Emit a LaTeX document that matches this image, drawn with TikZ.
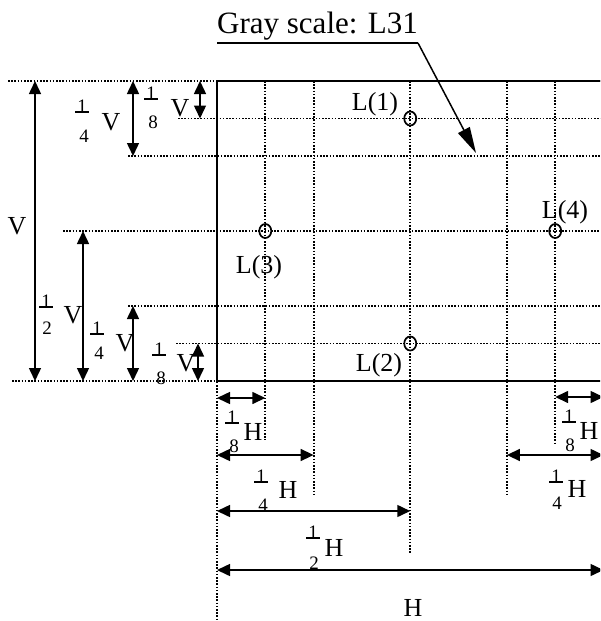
\documentclass[tikz,border=0pt]{standalone}
\usepackage{fontspec}
\setmainfont{Liberation Serif}
\usetikzlibrary{arrows.meta,shapes.geometric}
\tikzset{
  dim/.style={line width=1.5pt,{Triangle[length=13pt,width=12pt]}-{Triangle[length=13pt,width=12pt]}},
  dots/.style={line width=1.8pt,dash pattern=on 1.6pt off 1.6pt},
  frameline/.style={line width=2.3pt},
  lbl/.style={font=\fontsize{26}{26}\selectfont,inner sep=0pt},
  num/.style={font=\fontsize{19}{19}\selectfont,inner sep=2pt,anchor=base},
  den/.style={font=\fontsize{19}{19}\selectfont,inner sep=0pt},
  barline/.style={line width=1.2pt},
  ptmark/.style={draw,ellipse,minimum width=12pt,minimum height=14pt,inner sep=0pt,line width=1.7pt},
  pointer/.style={line width=1.5pt,-{Triangle[length=26pt,width=13pt]}}
}
\newcommand\onebar[2]{\node[num] (#1) at (#2) {1}; \draw[barline] (#1.base west) -- (#1.base east);}
\begin{document}
\begin{tikzpicture}[x=1pt,y=-1pt]
\useasboundingbox (0,0) rectangle (600,621);
\clip (0,0) rectangle (600,621);
% frame corners
\coordinate (TL) at (217,81);
\coordinate (BR) at (603.5,381);
% dotted horizontal lines
\draw[dots] (8,81) -- (603.5,81);
\draw[dots] (178,118.5) -- (603.5,118.5);
\draw[dots] (128,156) -- (603.5,156);
\draw[dots] (63,231) -- (603.5,231);
\draw[dots] (128,306) -- (603.5,306);
\draw[dots] (176,343.5) -- (603.5,343.5);
\draw[dots] (12,381) -- (603.5,381);
% dotted vertical lines
\draw[dots] (217,81) -- (217,621);
\draw[dots] (265.3,81) -- (265.3,440);
\draw[dots] (313.6,81) -- (313.6,496);
\draw[dots] (410.25,81) -- (410.25,554);
\draw[dots] (506.9,81) -- (506.9,494);
\draw[dots] (555.2,81) -- (555.2,444);
% frame
\draw[frameline] (TL) rectangle (BR);
% points
\node[ptmark] (p1) at (410.25,118.5) {};
\node[ptmark] (p3) at (265.3,231) {};
\node[ptmark] (p2) at (410.25,343.5) {};
\node[ptmark] (p4) at (555.2,231) {};
\node[lbl] (l1) at (375,104) {L(1)};
\node[lbl] (l3) at (259,267) {L(3)};
\node[lbl] (l4) at (565,212) {L(4)};
\node[lbl] (l2) at (379,365) {L(2)};
% gray scale
\node[font=\fontsize{31}{31}\selectfont,inner sep=0pt,anchor=base west] (gs) at (217,33) {Gray scale: L31};
\coordinate (ulA) at (217,43);
\coordinate (ulB) at (418,43);
\coordinate (gtip) at (476,153);
\draw[line width=1.3pt] (ulA) -- (ulB);
\draw[pointer] (ulB) -- (gtip);
% vertical dimension arrows
\coordinate (va1) at (35,81);   \coordinate (va2) at (35,381);
\coordinate (vb1) at (133,81);  \coordinate (vb2) at (133,156);
\coordinate (vc1) at (200,81);  \coordinate (vc2) at (200,118.5);
\coordinate (vd1) at (83,231);  \coordinate (vd2) at (83,381);
\coordinate (ve1) at (133,306); \coordinate (ve2) at (133,381);
\coordinate (vf1) at (198,343.5); \coordinate (vf2) at (198,381);
\draw[dim] (va1) -- (va2);
\draw[dim] (vb1) -- (vb2);
\draw[dim] (vc1) -- (vc2);
\draw[dim] (vd1) -- (vd2);
\draw[dim] (ve1) -- (ve2);
\draw[dim] (vf1) -- (vf2);
% vertical labels
\node[lbl] (vV) at (17,226) {V};
\onebar{n1}{82,112} \node[den] (d1) at (84,136) {4}; \node[lbl] (V1) at (111,122) {V};
\onebar{n2}{151,99} \node[den] (d2) at (153,122) {8}; \node[lbl] (V2) at (180,108) {V};
\onebar{n3}{46,307} \node[den] (d3) at (47,328) {2}; \node[lbl] (V3) at (73,315) {V};
\onebar{n4}{97,334} \node[den] (d4) at (99,353) {4}; \node[lbl] (V4) at (125,343) {V};
\onebar{n5}{159,355} \node[den] (d5) at (161,378) {8}; \node[lbl] (V5) at (186,363) {V};
% horizontal dimension arrows
\coordinate (ha1) at (217,398);   \coordinate (ha2) at (265.3,398);
\coordinate (hb1) at (217,455);   \coordinate (hb2) at (313.6,455);
\coordinate (hc1) at (217,511);   \coordinate (hc2) at (410.25,511);
\coordinate (hd1) at (217,570);   \coordinate (hd2) at (603.5,570);
\coordinate (he1) at (555.2,397); \coordinate (he2) at (603.5,397);
\coordinate (hf1) at (506.9,455); \coordinate (hf2) at (603.5,455);
\draw[dim] (ha1) -- (ha2);
\draw[dim] (hb1) -- (hb2);
\draw[dim] (hc1) -- (hc2);
\draw[dim] (hd1) -- (hd2);
\draw[dim] (he1) -- (he2);
\draw[dim] (hf1) -- (hf2);
% horizontal labels
\onebar{m1}{232,423} \node[den] (e1) at (234,446) {8}; \node[lbl] (H1) at (253,432) {H};
\onebar{m2}{261,482} \node[den] (e2) at (263,505) {4}; \node[lbl] (H2) at (288,490) {H};
\onebar{m3}{313,538} \node[den] (e3) at (314,563) {2}; \node[lbl] (H3) at (334,548) {H};
\node[lbl] (H4) at (413,608) {H};
\onebar{m5}{569,422} \node[den] (e5) at (570,445) {8}; \node[lbl] (H5) at (589,431) {H};
\onebar{m6}{556,482} \node[den] (e6) at (557,503) {4}; \node[lbl] (H6) at (577,489) {H};
\end{tikzpicture}
\end{document}
